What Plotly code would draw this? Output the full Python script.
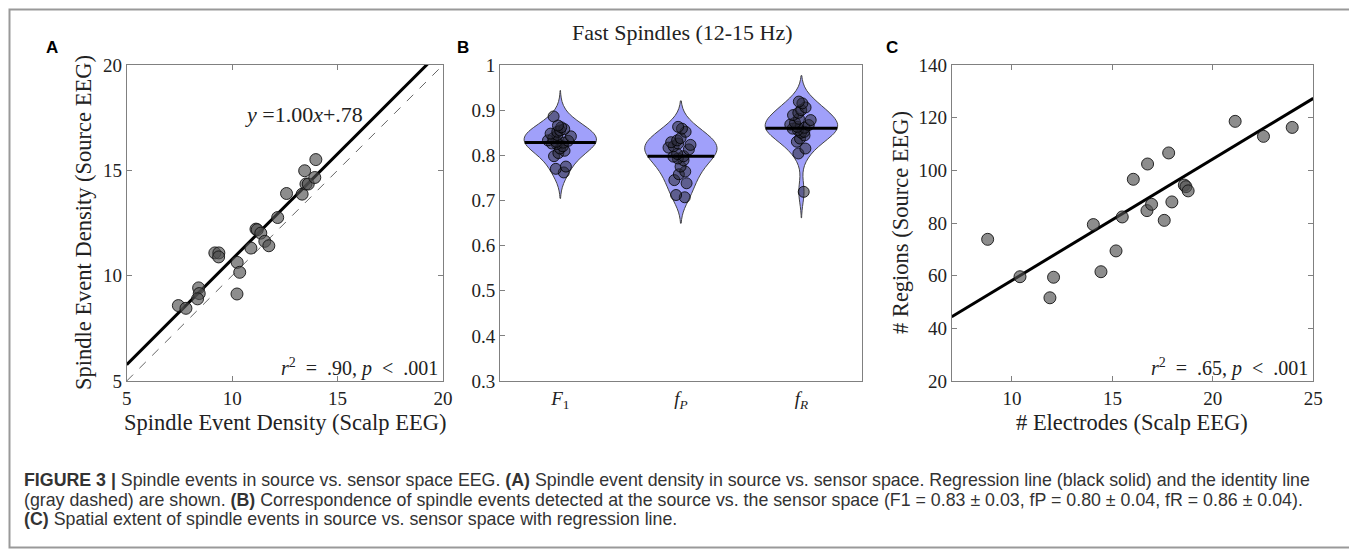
import numpy as np
import plotly.graph_objects as go

# The page body has an 8px margin: the figure starts at page (8, 8).
PAGE_W, PAGE_H = 1357, 552
OFF = 8
W, H = PAGE_W - OFF, PAGE_H - OFF

# ---------------- Data ----------------
# Panel A: spindle event density (scalp vs source)
a_scalp = [7.45, 7.81, 8.41, 8.44, 8.36, 9.18, 9.37, 9.36, 10.24, 10.36, 10.23, 10.89,
           11.13, 11.19, 11.36, 11.55, 11.74, 12.16, 12.58, 13.32, 13.44, 13.50, 13.61,
           13.92, 13.97]
a_source = [8.58, 8.45, 9.42, 9.15, 8.90, 11.08, 11.08, 10.89, 10.63, 10.16, 9.13, 11.31,
            12.21, 12.18, 12.02, 11.63, 11.42, 12.76, 13.90, 13.87, 14.98, 14.35, 14.35,
            14.66, 15.51]
a_slope, a_intercept = 1.00, 0.78

# Panel B: F1, fP, fR
cat_labels = ["<i>F</i><sub>1</sub>", "<i>f</i><sub><i>P</i></sub>", "<i>f</i><sub><i>R</i></sub>"]
b_F1 = [0.886, 0.866, 0.862, 0.858, 0.855, 0.852, 0.848, 0.845, 0.842, 0.838, 0.833, 0.830,
        0.828, 0.825, 0.832, 0.826, 0.820, 0.815, 0.810, 0.805, 0.798, 0.775, 0.770, 0.762]
b_fP = [0.863, 0.859, 0.852, 0.838, 0.833, 0.829, 0.826, 0.823, 0.820, 0.817, 0.813, 0.803,
        0.798, 0.797, 0.793, 0.789, 0.775, 0.764, 0.758, 0.745, 0.738, 0.712, 0.707]
b_fR = [0.919, 0.915, 0.906, 0.900, 0.894, 0.889, 0.881, 0.878, 0.872, 0.867, 0.863, 0.859,
        0.856, 0.850, 0.844, 0.837, 0.830, 0.815, 0.804, 0.719, 0.868, 0.861, 0.852]

# Panel C: # electrodes vs # regions
c_electrodes = [8.79, 10.40, 11.89, 12.07, 14.05, 14.43, 15.18, 15.49, 16.04, 16.72, 16.75,
                16.95, 17.58, 17.80, 17.96, 18.58, 18.66, 18.77, 21.11, 22.52, 23.95]
c_regions = [73.8, 59.6, 51.6, 59.4, 79.4, 61.5, 69.4, 82.3, 96.6, 84.7, 102.4, 87.1, 81.0,
             106.6, 88.0, 94.4, 93.8, 92.2, 118.6, 112.9, 116.3]
c_slope, c_intercept = 4.61, 12.1

# ---------------- Style ----------------
SERIF = "Liberation Serif"
SANS = "Liberation Sans"
AXC = "#808080"
TICKF = dict(family=SERIF, size=19, color="#222")
TITF = dict(family=SERIF, size=22.5, color="#222")
SP = "\u2002"  # en space (math-style spacing)


def fx(p):
    return (p - OFF) / W


def fy(p):
    return 1 - (p - OFF) / H


top, bot = 65, 381
ydom = [fy(bot), fy(top)]
dA = [fx(126.7), fx(443)]
dB = [fx(500), fx(861.7)]
dC = [fx(951.7), fx(1313.3)]

fig = go.Figure()

pt_marker = dict(size=12, color="rgba(80,80,80,0.65)", line=dict(color="rgba(20,20,20,0.9)", width=1))

# Panel A
xa = np.array([5.0, 20.0])
fig.add_trace(go.Scatter(x=xa, y=xa, mode="lines", line=dict(color="#666", width=1, dash="dash"),
                         xaxis="x", yaxis="y", showlegend=False))
fig.add_trace(go.Scatter(x=xa, y=a_slope * xa + a_intercept, mode="lines",
                         line=dict(color="black", width=3), xaxis="x", yaxis="y", showlegend=False))
fig.add_trace(go.Scatter(x=a_scalp, y=a_source, mode="markers", marker=pt_marker,
                         xaxis="x", yaxis="y", showlegend=False))

# Panel B
bw = 0.025
vwidth = 0.6
span_k = 2.3


def kde(v, grid, h):
    z = (grid[:, None] - v[None, :]) / h
    return np.exp(-0.5 * z ** 2).sum(axis=1)


for i, vals in enumerate([b_F1, b_fP, b_fR]):
    v = np.array(vals)
    lo, hi = float(v.min() - span_k * bw), float(v.max() + span_k * bw)
    fig.add_trace(go.Violin(
        x=[i + 1] * len(v), y=v, xaxis="x2", yaxis="y2", showlegend=False,
        width=vwidth, bandwidth=bw, spanmode="manual", span=[lo, hi],
        fillcolor="rgb(160,160,250)", line=dict(color="#444", width=1),
        meanline=dict(visible=False),
        points="all", pointpos=0, jitter=0.35,
        marker=dict(size=11, color="rgba(40,40,55,0.55)", line=dict(color="rgba(0,0,0,0.8)", width=1)),
        hoveron="points",
    ))
    # mean line across the violin (width from the same kernel density)
    grid = np.linspace(lo, hi, 600)
    dmax = kde(v, grid, bw).max()
    m = v.mean()
    hw = vwidth / 2 * kde(v, np.array([m]), bw)[0] / dmax
    fig.add_trace(go.Scatter(x=[i + 1 - hw, i + 1 + hw], y=[m, m], mode="lines",
                             line=dict(color="black", width=3), xaxis="x2", yaxis="y2",
                             showlegend=False))

# Panel C
xc = np.array([7.0, 25.0])
fig.add_trace(go.Scatter(x=xc, y=c_slope * xc + c_intercept, mode="lines",
                         line=dict(color="black", width=3), xaxis="x3", yaxis="y3", showlegend=False))
fig.add_trace(go.Scatter(x=c_electrodes, y=c_regions, mode="markers", marker=pt_marker,
                         xaxis="x3", yaxis="y3", showlegend=False))

axbase = dict(showgrid=False, zeroline=False, showline=True, linecolor=AXC, linewidth=1,
              ticks="inside", ticklen=5, tickcolor=AXC, tickfont=TICKF, mirror="ticks",
              automargin=False)

fig.update_layout(
    width=W, height=H, margin=dict(l=0, r=0, t=0, b=0, autoexpand=False),
    paper_bgcolor="white", plot_bgcolor="white", violinmode="overlay", showlegend=False,
    xaxis=dict(axbase, domain=dA, range=[5, 20], tickvals=[5, 10, 15, 20], anchor="y"),
    yaxis=dict(axbase, domain=ydom, range=[5, 20], tickvals=[5, 10, 15, 20], anchor="x"),
    xaxis2=dict(axbase, domain=dB, range=[0.5, 3.5], tickvals=[1, 2, 3], ticktext=cat_labels,
                ticks="", mirror=True, anchor="y2"),
    yaxis2=dict(axbase, domain=ydom, range=[0.3, 1.0], dtick=0.1, tick0=0.3, anchor="x2",
                mirror=True),
    xaxis3=dict(axbase, domain=dC, range=[7, 25], tickvals=[10, 15, 20, 25], anchor="y3"),
    yaxis3=dict(axbase, domain=ydom, range=[20, 140], dtick=20, tick0=20, anchor="x3"),
)

ann = []


def add_text(text, x, y, font, xanchor="center", yanchor="middle", angle=0, align="center"):
    ann.append(dict(text=text, x=x, y=y, xref="paper", yref="paper", showarrow=False, font=font,
                    xanchor=xanchor, yanchor=yanchor, textangle=angle, align=align))


LBL = dict(family=SANS, size=17, color="black")
add_text("<b>A</b>", fx(52), fy(48), LBL)
add_text("<b>B</b>", fx(463), fy(48), LBL)
add_text("<b>C</b>", fx(892), fy(48), LBL)
add_text("Fast Spindles (12-15 Hz)", fx(682), fy(33), dict(TITF, size=22))

# axis titles
add_text("Spindle Event Density (Source EEG)", fx(83), fy(223), TITF, angle=-90)
add_text("Spindle Event Density (Scalp EEG)", fx(285), fy(422), TITF)
add_text("# Regions (Source EEG)", fx(900), fy(223), TITF, angle=-90)
add_text("# Electrodes (Scalp EEG)", fx(1132), fy(422), TITF)

# in-plot annotations
add_text("<i>y</i> =1.00<i>x</i>+.78", fx(304), fy(115), dict(family=SERIF, size=22, color="#222"))
RF = dict(family=SERIF, size=20, color="#222")
add_text(f"<i>r</i><sup>2</sup>{SP}={SP}.90, <i>p</i>{SP}&lt;{SP}.001", fx(440), fy(367), RF, xanchor="right")
add_text(f"<i>r</i><sup>2</sup>{SP}={SP}.65, <i>p</i>{SP}&lt;{SP}.001", fx(1310), fy(367), RF, xanchor="right")

# caption, one annotation per line
cap_lines = [
    "<b>FIGURE 3 |</b> Spindle events in source vs. sensor space EEG. <b>(A)</b> Spindle event density in source vs. sensor space. "
    "Regression line (black solid) and the identity line",
    "(gray dashed) are shown. <b>(B)</b> Correspondence of spindle events detected at the source vs. the sensor space "
    "(F1 = 0.83 ± 0.03, fP = 0.80 ± 0.04, fR = 0.86 ± 0.04).",
    "<b>(C)</b> Spatial extent of spindle events in source vs. sensor space with regression line.",
]
cap_y = [480, 500, 519]
for line, yy in zip(cap_lines, cap_y):
    add_text(line, fx(22), fy(yy), dict(family=SANS, size=17.8, color="#333"), xanchor="left", align="left")

fig.update_layout(annotations=ann)

# outer frame (kept inside the drawable page area)
fig.add_shape(type="rect", xref="paper", yref="paper", x0=fx(9.5), x1=fx(1352),
              y0=fy(547.5), y1=fy(9.5), line=dict(color="#999", width=2), fillcolor="rgba(0,0,0,0)")

fig.write_html("out.html")
